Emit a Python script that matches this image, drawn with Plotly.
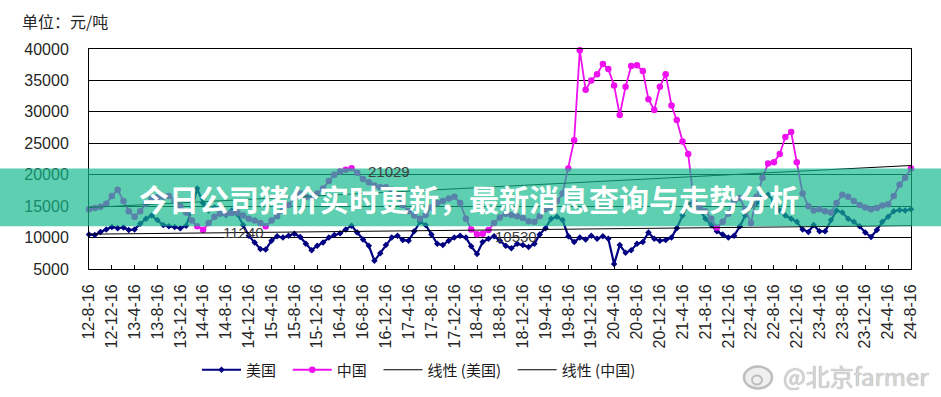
import numpy as np
import pandas as pd
import plotly.graph_objects as go

# ---------------- data (monthly, 16th of each month, 2012-08 .. 2024-08) ----------------
usa = [10500, 10400, 10900, 11300, 11700, 11500, 11600, 11200, 11300, 12200,
       13000, 13500, 12800, 12000, 11800, 11700, 11500, 11900, 14500, 17800,
       15500, 14300, 14800, 14200, 13600, 14300, 13700, 12000, 10300, 9200,
       8200, 8100, 9500, 10200, 10000, 10300, 10600, 10100, 9000, 8000,
       8700, 9200, 10000, 10400, 10700, 11300, 11900, 10800, 9700, 8700,
       6300, 7500, 8800, 10000, 10300, 9600, 9500, 11000, 12500, 12000,
       10500, 9000, 8800, 9500, 10000, 10300, 10000, 8600, 7400, 9300,
       9800, 10200, 9500, 8700, 8300, 9000, 8800, 8500, 9000, 10500,
       11500, 13000, 13300, 12800, 10200, 9300, 10000, 9700, 10300, 9800,
       10200, 9800, 5800, 8800, 7600, 8000, 9000, 9300, 10800, 9800,
       9500, 9600, 10000, 11500, 13500, 15300, 15800, 14500, 13000, 12000,
       11000, 10500, 10000, 10300, 11800, 13500, 15000, 15500, 16500, 16800,
       15800, 14300, 13500, 13000, 12500, 11300, 10900, 12000, 11000, 11000,
       12800, 14300, 14000, 13000, 12500, 11800, 10800, 10100, 11200, 12500,
       13300, 14200, 14400, 14300, 14500]

china = [14500, 14700, 14900, 15400, 16600, 17600, 15800, 14200, 13300, 14200,
         15400, 16200, 16400, 16500, 16600, 15900, 15000, 14000, 12700, 11800,
         11240, 12300, 13300, 13800, 13800, 13900, 14000, 13500, 13000, 12700,
         12300, 11800, 12700, 13400, 14300, 15200, 16300, 17000, 16500, 16300,
         17000, 17800, 19000, 20000, 20500, 20800, 21029, 20300, 19300, 18800,
         18300, 18000, 18000, 17600, 16500, 15200, 14200, 13500, 13000, 13600,
         14800, 15500, 15800, 16200, 16500, 15500, 13000, 11300, 10530, 10600,
         11200, 12300, 13200, 13800, 13600, 13400, 13100, 12600, 12500, 13400,
         14500, 14800, 15800, 17000, 21000, 25500, 39800, 33500, 35000, 36000,
         37600, 36800, 34200, 29500, 34000, 37300, 37400, 36500, 32000, 30300,
         34000, 36000, 31000, 28700, 25300, 23300, 15500, 14800, 14200, 13000,
         11600, 12500, 13800, 15800, 16300, 14500, 12300, 16500, 19500, 21800,
         22000, 23300, 26000, 26800, 22000, 17000, 15000, 14300, 14500, 14200,
         14000, 15500, 16800, 16500, 15800, 15200, 14800, 14500, 14700, 15100,
         15300, 16600, 18400, 19500, 21000]

tick_labels = ["12-8-16", "12-12-16", "13-4-16", "13-8-16", "13-12-16", "14-4-16",
               "14-8-16", "14-12-16", "15-4-16", "15-8-16", "15-12-16", "16-4-16",
               "16-8-16", "16-12-16", "17-4-16", "17-8-16", "17-12-16", "18-4-16",
               "18-8-16", "18-12-16", "19-4-16", "19-8-16", "19-12-16", "20-4-16",
               "20-8-16", "20-12-16", "21-4-16", "21-8-16", "21-12-16", "22-4-16",
               "22-8-16", "22-12-16", "23-4-16", "23-8-16", "23-12-16", "24-4-16",
               "24-8-16"]

labelled_values = [21029, 11240, 10530]

series_names = ["美国", "中国", "线性 (美国)", "线性 (中国)"]

# ---------------- derived ----------------
dates_us = pd.date_range("2012-08-01", periods=len(usa), freq="MS") + pd.Timedelta(days=15)
dates_cn = pd.date_range("2012-08-01", periods=len(china), freq="MS") + pd.Timedelta(days=15)
tick_dates = pd.date_range("2012-08-01", periods=len(tick_labels), freq="4MS") + pd.Timedelta(days=15)


def linear_trend(vals):
    idx = np.arange(len(vals))
    coef = np.polyfit(idx, np.asarray(vals, dtype=float), 1)
    return np.polyval(coef, idx)


trend_us = linear_trend(usa)
trend_cn = linear_trend(china)

TICKFONT = dict(family="Liberation Sans, Arial, sans-serif", size=16, color="#262626")
CJK = "Noto Sans CJK SC, Liberation Sans, sans-serif"
PAD = "\u00a0\u00a0"  # extra spacing between legend entries

fig = go.Figure()
fig.add_trace(go.Scatter(
    x=dates_us, y=usa, name=series_names[0] + PAD, mode="lines+markers",
    line=dict(color="#000080", width=2.2),
    marker=dict(symbol="diamond", size=5, color="#000080"),
    cliponaxis=False))
fig.add_trace(go.Scatter(
    x=dates_cn, y=china, name=series_names[1] + PAD, mode="lines+markers",
    line=dict(color="#EE11EE", width=1.8),
    marker=dict(symbol="circle", size=6.5, color="#EE11EE"),
    cliponaxis=False))
fig.add_trace(go.Scatter(
    x=dates_us, y=trend_us, name=series_names[2] + PAD, mode="lines",
    line=dict(color="#000000", width=1)))
fig.add_trace(go.Scatter(
    x=dates_cn, y=trend_cn, name=series_names[3], mode="lines",
    line=dict(color="#000000", width=1)))

# data labels anchored at the labelled points
shifts = [(37, -3), (40, -3), (39, -2)]
for v, (dx, dy) in zip(labelled_values, shifts):
    i = china.index(v)
    fig.add_annotation(x=dates_cn[i], y=v, xref="x", yref="y", text=str(v),
                       showarrow=False, xshift=dx, yshift=dy,
                       font=dict(family="Liberation Sans, Arial, sans-serif", size=15, color="#404040"))

# unit title
fig.add_annotation(xref="paper", yref="paper", x=(20 - 89) / 822, y=(270 - 21) / 221,
                   xanchor="left", yanchor="middle", showarrow=False,
                   text="单位：元/吨", font=dict(family=CJK, size=16, color="#262626"))

# banner band over the chart
fig.add_shape(type="rect", xref="paper", yref="paper", layer="above",
              x0=-0.2, x1=1.2, y0=(270 - 227) / 221, y1=(270 - 169) / 221,
              fillcolor="rgba(18,184,138,0.68)", line=dict(width=0))
fig.add_annotation(xref="paper", yref="paper", x=(469 - 89) / 822, y=(270 - 199) / 221,
                   xanchor="center", yanchor="middle", showarrow=False,
                   text="<b>今日公司猪价实时更新，最新消息查询与走势分析</b>",
                   font=dict(family="Noto Sans CJK SC, sans-serif", size=30, color="#ffffff"))

# watermark
fig.add_annotation(xref="paper", yref="paper", x=(781 - 89) / 822, y=(270 - 377) / 221,
                   xanchor="left", yanchor="middle", showarrow=False,
                   text="@北京farmer",
                   font=dict(family=CJK, size=24, color="#d6d6d6", shadow="0px 0px 1px #8a8a8a"))
fig.add_shape(type="circle", xref="paper", yref="paper", layer="above",
              x0=(744 - 89) / 822, x1=(772 - 89) / 822,
              y0=(270 - 390) / 221, y1=(270 - 368) / 221,
              line=dict(color="#bdbdbd", width=2.5), fillcolor="rgba(235,235,235,0.8)")
fig.add_shape(type="circle", xref="paper", yref="paper", layer="above",
              x0=(752 - 89) / 822, x1=(762 - 89) / 822,
              y0=(270 - 386) / 221, y1=(270 - 377) / 221,
              line=dict(color="#bdbdbd", width=2), fillcolor="rgba(255,255,255,0)")

fig.update_layout(
    width=941, height=397,
    margin=dict(l=89, r=30, t=49, b=127),
    paper_bgcolor="#ffffff", plot_bgcolor="#ffffff",
    showlegend=True,
    legend=dict(orientation="h", x=(419 - 89) / 822, xanchor="center",
                y=(270 - 370) / 221, yanchor="middle", itemwidth=39,
                font=dict(family=CJK, size=15, color="#1a1a1a"),
                bgcolor="rgba(0,0,0,0)", traceorder="normal"),
    xaxis=dict(type="date", range=[tick_dates[0], tick_dates[-1]],
               tickmode="array", tickvals=tick_dates, ticktext=tick_labels,
               tickangle=-90, tickfont=TICKFONT,
               ticks="inside", ticklen=4, tickcolor="#000000", tickwidth=1,
               showgrid=False, showline=True, linecolor="#000000", linewidth=1,
               mirror=True, zeroline=False, ticklabelstandoff=8, automargin=False),
    yaxis=dict(range=[5000, 40000], dtick=5000, tick0=5000, tickfont=TICKFONT,
               tickformat="d",
               showgrid=True, gridcolor="#000000", gridwidth=1,
               showline=True, linecolor="#000000", linewidth=1, mirror=True,
               zeroline=False, ticks="", ticklabelstandoff=16, automargin=False),
)

fig.write_html("out.html", config={"displayModeBar": False},
               post_script="document.body.style.margin='0px';")
